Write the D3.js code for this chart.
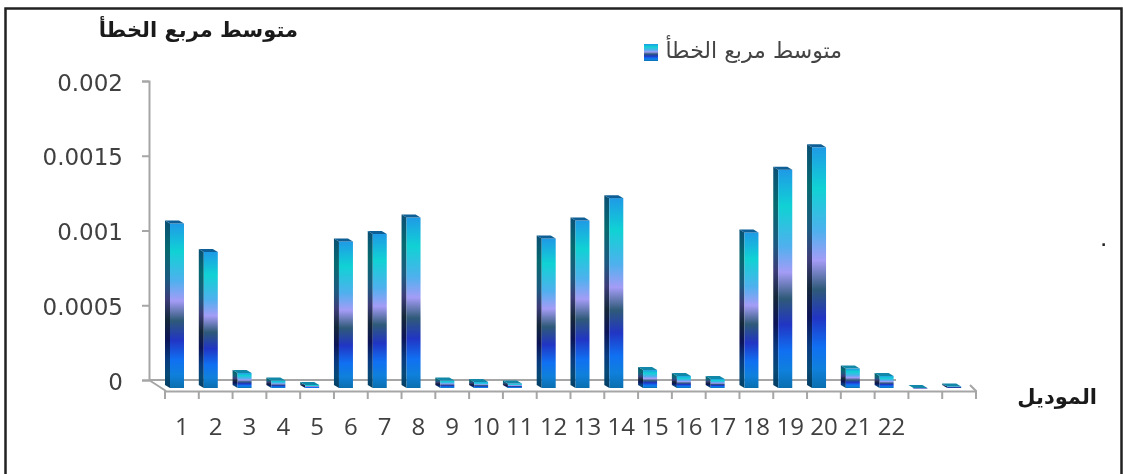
<!DOCTYPE html>
<html>
<head>
<meta charset="utf-8">
<script src="https://cdn.jsdelivr.net/npm/d3@7"></script>
<style>
  html, body { margin: 0; padding: 0; background: #fff; }
  svg { display: block; filter: blur(0.45px); }
</style>
</head>
<body>
<div class="chart"></div>
<script>
// القيم مقروءة من الصورة
const categories = ["1","2","3","4","5","6","7","8","9","10","11","12","13","14","15","16","17","18","19","20","21","22","",""]
const mseValues = [0.0011,0.00091,0.0001,0.00005,0.00002,0.00098,0.00103,0.00114,0.00005,0.00004,0.00003,0.001,0.00112,0.00127,0.00012,0.00008,0.00006,0.00104,0.00146,0.00161,0.00013,0.00008,0,0.00001]
const yTicks = [0, 0.0005, 0.001, 0.0015, 0.002]
const yTitle = "متوسط مربع الخطأ"
const xTitle = "الموديل"
const legendLabel = "متوسط مربع الخطأ"

const svgWidth = 1123
const svgHeight = 474
const arabicFont = "'DejaVu Sans', sans-serif"
const numberFont = "'DejaVu Sans', sans-serif"

const svg = d3.select('.chart')
  .append('svg')
  .attr('width', svgWidth)
  .attr('height', svgHeight)

// التدرج اللوني
const stops = [
  [0, "#1f9ae6"], [0.17, "#10d2d4"], [0.35, "#4fb0ee"], [0.47, "#a49cf6"],
  [0.59, "#2f5a78"], [0.71, "#2135c4"], [0.83, "#1070f2"], [0.92, "#0f80dc"], [1, "#0a6fae"]
]
const sideStops = [
  [0, "#0a4f74"], [0.17, "#066a70"], [0.35, "#1c5a80"], [0.47, "#3c3c78"],
  [0.59, "#14283a"], [0.71, "#0c1458"], [0.83, "#083a80"], [0.92, "#064a78"], [1, "#043c60"]
]
const defs = svg.append('defs')
function addGradient(id, list) {
  defs.append('linearGradient')
    .attr('id', id)
    .attr('x1', 0).attr('y1', 0).attr('x2', 0).attr('y2', 1)
    .selectAll('stop')
    .data(list)
    .enter()
    .append('stop')
    .attr('offset', d => d[0])
    .attr('stop-color', d => d[1])
}
addGradient('barFront', stops)
addGradient('barSide', sideStops)

// الإطار
svg.append('path')
  .attr('d', 'M5.5,474V8.5H1121.5V474')
  .attr('fill', 'none')
  .attr('stroke', '#222')
  .attr('stroke-width', 2.5)

// المقاييس
const xScale = d3.scaleBand()
  .domain(d3.range(categories.length))
  .range([165, 976])
  .padding(0)

const yScale = d3.scaleLinear()
  .domain([0, 0.002])
  .range([380, 81])

const depthX = 17
const gridColor = '#a6a6a6'

// المحور الصادي
const yAxis = d3.axisLeft(yScale)
  .tickValues(yTicks)
  .tickFormat(d => d3.format('')(+d.toFixed(4)))
  .tickSize(7)
  .tickPadding(19)

const yG = svg.append('g')
  .attr('transform', 'translate(149, 0)')
  .call(yAxis)
yG.selectAll('path,line').attr('stroke', gridColor).attr('stroke-width', 2)
yG.selectAll('text')
  .attr('font-family', numberFont)
  .attr('font-size', 23)
  .attr('dy', '0.4em')
  .attr('fill', '#404040')

// أرضية الرسم
svg.append('path')
  .attr('d', `M149,380L${149 + depthX},391M149,380H896M970,385L976,391V398`)
  .attr('fill', 'none')
  .attr('stroke', gridColor)
  .attr('stroke-width', 2)

// المحور السيني
const xAxis = d3.axisBottom(xScale)
  .tickFormat(i => categories[i])
  .tickSize(0)
  .tickPadding(27)

const xG = svg.append('g')
  .attr('transform', 'translate(0, 391)')
  .call(xAxis)
xG.select('.domain').attr('stroke', gridColor).attr('stroke-width', 2)
xG.selectAll('text')
  .attr('font-family', "'Open Sans', sans-serif")
  .attr('font-size', 24)
  .attr('fill', '#404040')

xG.selectAll('.edge')
  .data(d3.range(categories.length + 1))
  .enter()
  .append('line')
  .attr('class', 'edge')
  .attr('x1', i => 165 + i * xScale.bandwidth())
  .attr('x2', i => 165 + i * xScale.bandwidth())
  .attr('y1', 0)
  .attr('y2', 8)
  .attr('stroke', gridColor)
  .attr('stroke-width', 2)

// الأعمدة
const frontW = 14
const sideW = 5
const topH = 3
const frontDrop = 8
const barOffset = 5

const bars = svg.append('g')
  .selectAll('g')
  .data(mseValues)
  .enter()
  .append('g')
  .attr('transform', (d, i) => `translate(${xScale(i) + barOffset}, 0)`)

bars.append('path')
  .attr('fill', 'url(#barSide)')
  .attr('d', d => {
    const top = yScale(d) + frontDrop
    const base = yScale(0) + frontDrop
    return `M0,${top}L${-sideW},${top - topH}V${base - topH}L0,${base}Z`
  })

bars.append('rect')
  .attr('x', 0)
  .attr('width', frontW)
  .attr('y', d => yScale(d) + frontDrop)
  .attr('height', d => Math.max(1, yScale(0) - yScale(d)))
  .attr('fill', 'url(#barFront)')

bars.append('path')
  .attr('fill', d => d < 0.0002 ? '#1288a8' : '#0d5f96')
  .attr('d', d => {
    const top = yScale(d) + frontDrop
    return `M0,${top}L${-sideW},${top - topH}H${frontW - sideW}L${frontW},${top}Z`
  })

// العناوين
svg.append('text')
  .attr('x', 298)
  .attr('y', 37)
  .attr('text-anchor', 'end')
  .attr('font-family', arabicFont)
  .attr('font-weight', 'bold')
  .attr('font-size', 21)
  .attr('fill', '#1a1a1a')
  .text(yTitle)

svg.append('text')
  .attr('x', 1097)
  .attr('y', 404)
  .attr('text-anchor', 'end')
  .attr('font-family', arabicFont)
  .attr('font-weight', 'bold')
  .attr('font-size', 21)
  .attr('fill', '#1a1a1a')
  .text(xTitle)

// مفتاح الرسم
svg.append('rect')
  .attr('x', 644)
  .attr('y', 44)
  .attr('width', 14)
  .attr('height', 17)
  .attr('fill', 'url(#barFront)')

svg.append('text')
  .attr('x', 842)
  .attr('y', 58)
  .attr('text-anchor', 'end')
  .attr('font-family', arabicFont)
  .attr('font-size', 22)
  .attr('fill', '#444')
  .text(legendLabel)

// نقطة صغيرة في الأصل
svg.append('text')
  .attr('x', 1101)
  .attr('y', 246)
  .attr('font-family', numberFont)
  .attr('font-size', 14)
  .attr('font-weight', 'bold')
  .attr('fill', '#222')
  .text('.')
</script>
</body>
</html>
